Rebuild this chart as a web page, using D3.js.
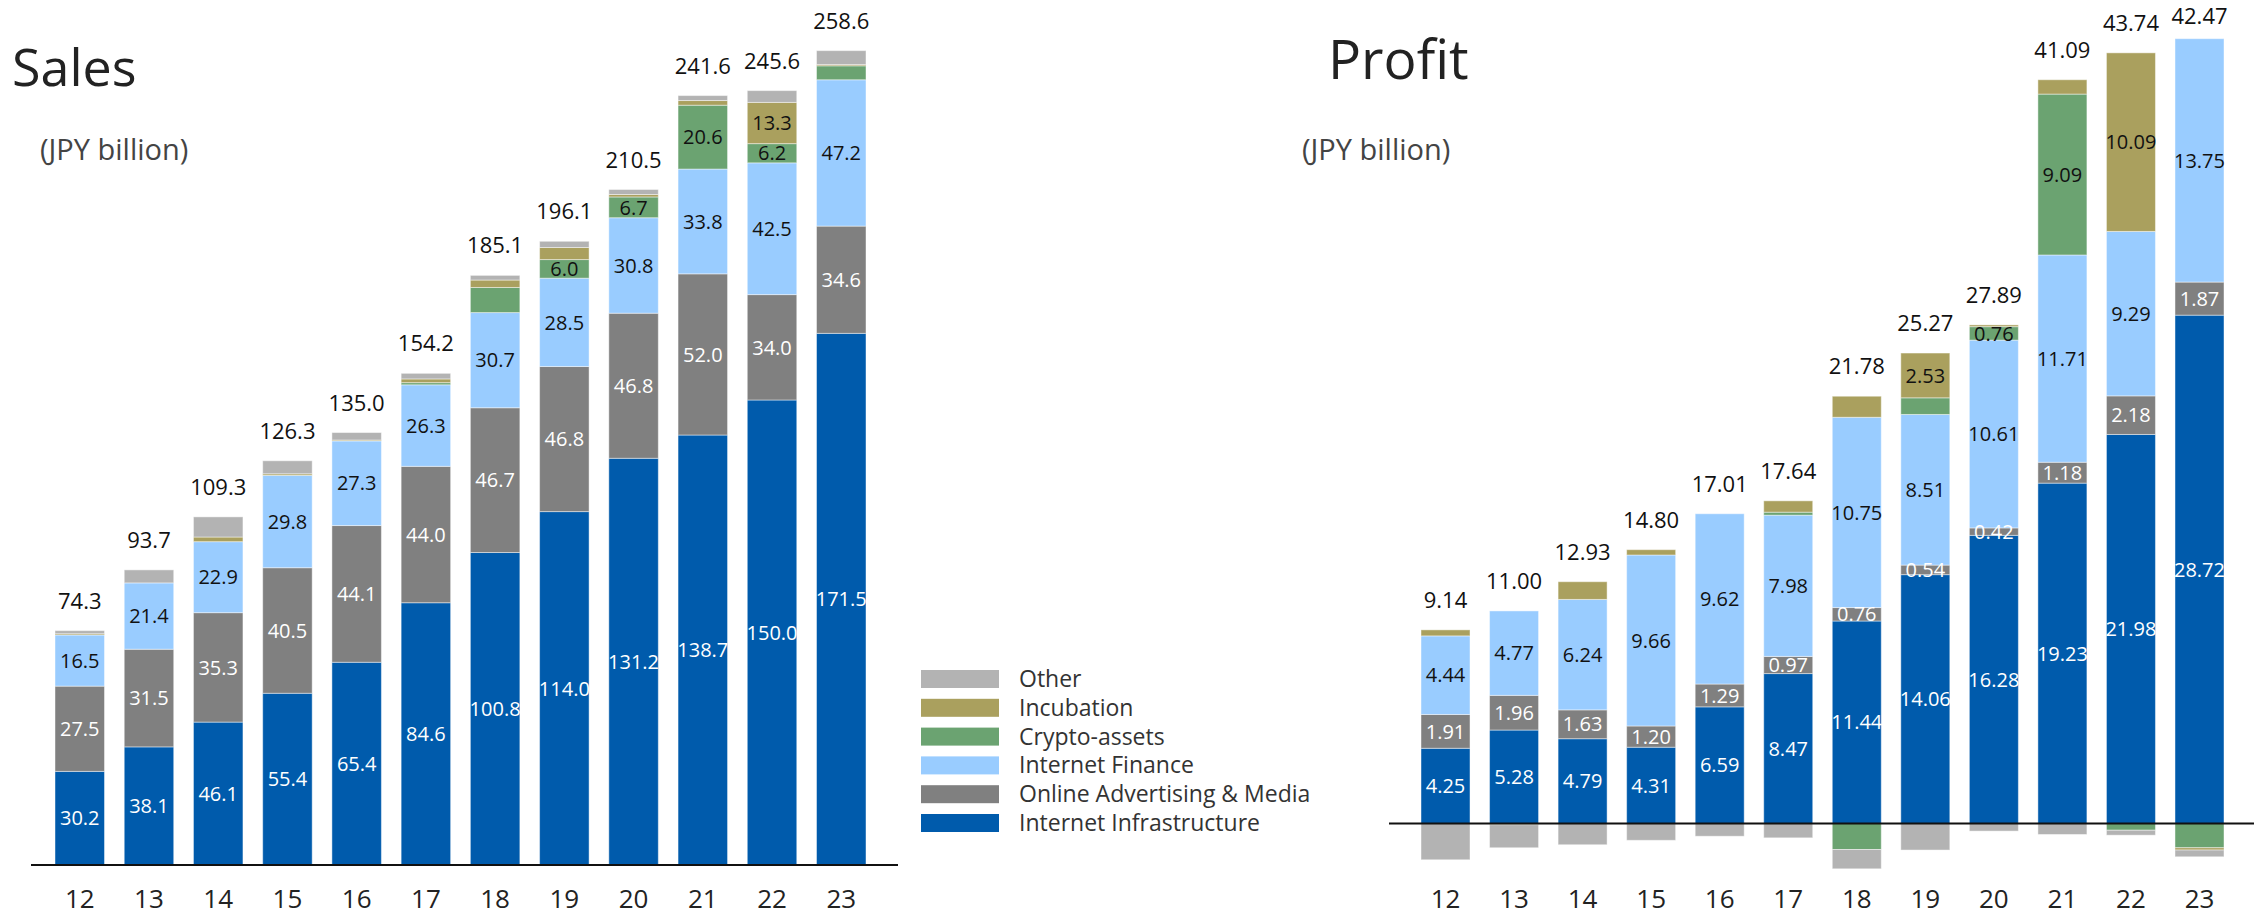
<!DOCTYPE html>
<html>
<head>
<meta charset="utf-8">
<script src="https://cdn.jsdelivr.net/npm/d3@7"></script>
<style>
body { margin: 0; background: #fff; }
text { font-family: "Open Sans", "Noto Sans", sans-serif; }
</style>
</head>
<body>
<svg id="chart" width="2254" height="917"></svg>
<script>
const years = ['12', '13', '14', '15', '16', '17', '18', '19', '20', '21', '22', '23']

// sales, JPY billion
const infraSales = [30.2, 38.1, 46.1, 55.4, 65.4, 84.6, 100.8, 114.0, 131.2, 138.7, 150.0, 171.5]
const adsSales = [27.5, 31.5, 35.3, 40.5, 44.1, 44.0, 46.7, 46.8, 46.8, 52.0, 34.0, 34.6]
const financeSales = [16.5, 21.4, 22.9, 29.8, 27.3, 26.3, 30.7, 28.5, 30.8, 33.8, 42.5, 47.2]
const cryptoSales = [0, 0, 0, 0, 0, 0.7, 8.1, 6.0, 6.7, 20.6, 6.2, 4.5]
const incubationSales = [0.4, 0, 1.5, 0.5, 0.3, 1.2, 2.4, 3.9, 0.8, 1.5, 13.3, 0.4]
const otherSales = [1.0, 4.2, 6.5, 4.2, 2.4, 1.8, 1.5, 2.0, 1.6, 1.6, 3.8, 4.5]
const totalSales = [74.3, 93.7, 109.3, 126.3, 135.0, 154.2, 185.1, 196.1, 210.5, 241.6, 245.6, 258.6]
const cryptoSalesLabeled = ['19', '20', '21', '22']
const incubationSalesLabeled = ['22']

// profit, JPY billion
const infraProfit = [4.25, 5.28, 4.79, 4.31, 6.59, 8.47, 11.44, 14.06, 16.28, 19.23, 21.98, 28.72]
const adsProfit = [1.91, 1.96, 1.63, 1.20, 1.29, 0.97, 0.76, 0.54, 0.42, 1.18, 2.18, 1.87]
const financeProfit = [4.44, 4.77, 6.24, 9.66, 9.62, 7.98, 10.75, 8.51, 10.61, 11.71, 9.29, 13.75]
const cryptoProfit = [0, 0, 0, 0, 0, 0.17, -1.47, 0.94, 0.76, 9.09, -0.38, -1.37]
const incubationProfit = [0.34, -0.07, 1.0, 0.3, 0, 0.64, 1.19, 2.53, 0.1, 0.81, 10.09, -0.13]
const otherProfit = [-2.05, -1.3, -1.2, -0.95, -0.72, -0.81, -1.09, -1.5, -0.43, -0.62, -0.28, -0.38]
const totalProfit = [9.14, 11.00, 12.93, 14.80, 17.01, 17.64, 21.78, 25.27, 27.89, 41.09, 43.74, 42.47]
const cryptoProfitLabeled = ['20', '21']
const incubationProfitLabeled = ['19', '22']

const keys = ['infra', 'ads', 'finance', 'crypto', 'incubation', 'other']
const legendNames = ['Internet Infrastructure', 'Online Advertising & Media', 'Internet Finance', 'Crypto-assets', 'Incubation', 'Other']
const colors = ['#005bac', '#808080', '#99ccff', '#6ba371', '#aaa05e', '#b3b3b3']
const textColors = ['#fff', '#fff', '#111', '#111', '#111', '#111']

const svg = d3.select('#chart')

function buildRows(series) {
  return years.map((yr, i) => {
    const row = { year: yr }
    keys.forEach((k, j) => { row[k] = series[j][i] })
    return row
  })
}

function drawChart(rows, x, y, fmt, totals, labeled, lineX) {
  const g = svg.append('g')
  const layers = d3.stack().keys(keys).offset(d3.stackOffsetDiverging)(rows)

  g.selectAll('g.layer')
    .data(layers)
    .join('g')
    .attr('class', 'layer')
    .attr('fill', (d, i) => colors[i])
    .selectAll('rect')
    .data(d => d.filter(p => p[1] !== p[0]))
    .join('rect')
    .attr('x', d => x(d.data.year))
    .attr('width', x.bandwidth())
    .attr('y', d => y(Math.max(d[0], d[1])))
    .attr('height', d => Math.abs(y(d[0]) - y(d[1])))
    .attr('stroke', 'rgba(255,255,255,0.45)')
    .attr('stroke-width', 1)

  // values inside the segments
  layers.forEach((layer, i) => {
    g.append('g')
      .selectAll('text')
      .data(layer.filter(d => labeled[i].includes(d.data.year)))
      .join('text')
      .attr('x', d => x(d.data.year) + x.bandwidth() / 2)
      .attr('y', d => (y(d[0]) + y(d[1])) / 2)
      .attr('dy', '0.36em')
      .attr('text-anchor', 'middle')
      .attr('font-size', 20)
      .attr('fill', textColors[i])
      .text(d => fmt(d.data[keys[i]]))
  })

  // totals above the bars, kept inside the top edge
  g.append('g')
    .selectAll('text')
    .data(rows)
    .join('text')
    .attr('x', d => x(d.year) + x.bandwidth() / 2)
    .attr('y', (d, i) => Math.max(24, y(d3.max(layers, l => l[i][1])) - 22))
    .attr('text-anchor', 'middle')
    .attr('font-size', 22)
    .attr('fill', '#111')
    .text((d, i) => fmt(totals[i]))

  g.append('line')
    .attr('x1', lineX[0])
    .attr('x2', lineX[1])
    .attr('y1', y(0))
    .attr('y2', y(0))
    .attr('stroke', '#111')
    .attr('stroke-width', 2)

  g.append('g')
    .attr('transform', 'translate(0,863)')
    .call(d3.axisBottom(x).tickSize(0).tickPadding(27))
    .call(a => a.select('.domain').remove())
    .selectAll('text')
    .attr('font-size', 26)
    .attr('fill', '#222')
}

const salesRows = buildRows([infraSales, adsSales, financeSales, cryptoSales, incubationSales, otherSales])
const profitRows = buildRows([infraProfit, adsProfit, financeProfit, cryptoProfit, incubationProfit, otherProfit])

const xSales = d3.scaleBand().domain(years).range([55, 866]).paddingInner(0.285).paddingOuter(0)
const ySales = d3.scaleLinear().domain([0, 260]).range([865, 59])
const xProfit = d3.scaleBand().domain(years).range([1421, 2224]).paddingInner(0.285).paddingOuter(0)
const yProfit = d3.scaleLinear().domain([-3, 45]).range([876.6, 27])

drawChart(salesRows, xSales, ySales, d3.format('.1f'), totalSales,
  [years, years, years, cryptoSalesLabeled, incubationSalesLabeled, []], [31, 898])
drawChart(profitRows, xProfit, yProfit, d3.format('.2f'), totalProfit,
  [years, years, years, cryptoProfitLabeled, incubationProfitLabeled, []], [1389, 2254])

// titles
svg.append('text').attr('x', 12).attr('y', 86).attr('font-size', 52).attr('fill', '#222').text('Sales')
svg.append('text').attr('x', 40).attr('y', 160).attr('font-size', 29).attr('fill', '#444').text('(JPY billion)')
svg.append('text').attr('x', 1328).attr('y', 79).attr('font-size', 55).attr('fill', '#222').text('Profit')
svg.append('text').attr('x', 1302).attr('y', 160).attr('font-size', 29).attr('fill', '#444').text('(JPY billion)')

// legend, top row is the last series
const legend = svg.append('g')
  .selectAll('g')
  .data(d3.range(keys.length).reverse())
  .join('g')
  .attr('transform', (d, i) => `translate(921,${670 + i * 28.8})`)

legend.append('rect')
  .attr('width', 78)
  .attr('height', 18)
  .attr('fill', d => colors[d])

legend.append('text')
  .attr('x', 98)
  .attr('y', 17)
  .attr('font-size', 23)
  .attr('fill', '#333')
  .text(d => legendNames[d])
</script>
</body>
</html>
